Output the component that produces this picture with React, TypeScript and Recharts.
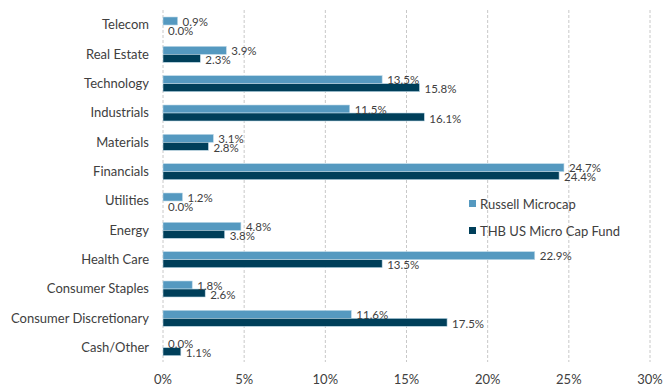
import React from 'react';
import { BarChart, Bar, XAxis, YAxis, CartesianGrid, LabelList } from 'recharts';

const categories = ['Telecom', 'Real Estate', 'Technology', 'Industrials', 'Materials', 'Financials', 'Utilities', 'Energy', 'Health Care', 'Consumer Staples', 'Consumer Discretionary', 'Cash/Other'];
const russell = [0.9, 3.9, 13.5, 11.5, 3.1, 24.7, 1.2, 4.8, 22.9, 1.8, 11.6, 0.0];
const thb = [0.0, 2.3, 15.8, 16.1, 2.8, 24.4, 0.0, 3.8, 13.5, 2.6, 17.5, 1.1];
const xTicks = [0, 5, 10, 15, 20, 25, 30];
const seriesNames = ['Russell Microcap', 'THB US Micro Cap Fund'];

const data = categories.map((c, i) => ({ name: c, russell: russell[i], thb: thb[i] }));

const LIGHT = '#5599C0';
const DARK = '#003F5A';
const TEXT = '#404040';
const FONT = 'Lato, "Open Sans", sans-serif';

const makeLabel = (dy: number) => (props: any) => {
  const { x, y, width, height, value } = props;
  const w = Number(value) === 0 ? 0 : width;
  return (
    <text x={x + w + 5} y={y + height / 2 + dy} fill={TEXT} fontSize={11.5} fontFamily={FONT} dominantBaseline="central">
      {Number(value).toFixed(1)}%
    </text>
  );
};

const makeShape = (key: string) => (props: any) => {
  const { x, y, width, height, fill, stroke, strokeWidth, payload } = props;
  if (!payload || Number(payload[key]) === 0) return <g />;
  return <rect x={x} y={y} width={width} height={height} fill={fill} stroke={stroke} strokeWidth={strokeWidth} />;
};

export default function App() {
  return (
    <div style={{ position: 'absolute', left: 0, top: 0, width: 671, height: 387, background: '#fff' }}>
      <BarChart
        width={671}
        height={387}
        data={data}
        layout="vertical"
        margin={{ top: 10, right: 21, bottom: 0, left: 0 }}
        barGap={0}
        barSize={8}
      >
        <CartesianGrid horizontal={false} strokeDasharray="3 2" stroke="#C8C8C8" />
        <XAxis
          type="number"
          domain={[0, 30]}
          ticks={xTicks}
          tickFormatter={(v: number) => `${v}%`}
          axisLine={false}
          tickLine={false}
          tick={{ fill: TEXT, fontSize: 13, fontFamily: FONT }}
          height={25}
          tickMargin={7}
        />
        <YAxis
          type="category"
          dataKey="name"
          width={163}
          axisLine={false}
          tickLine={false}
          tickSize={0}
          tickMargin={14}
          interval={0}
          tick={{ fill: TEXT, fontSize: 13, fontFamily: FONT }}
        />
        <Bar dataKey="russell" name={seriesNames[0]} fill={LIGHT} stroke="#BFD9E8" strokeWidth={0.6} minPointSize={0.01} shape={makeShape('russell')} isAnimationActive={false}>
          <LabelList dataKey="russell" content={makeLabel(0)} />
        </Bar>
        <Bar dataKey="thb" name={seriesNames[1]} fill={DARK} stroke="#BFD9E8" strokeWidth={0.6} minPointSize={0.01} shape={makeShape('thb')} isAnimationActive={false}>
          <LabelList dataKey="thb" content={makeLabel(1)} />
        </Bar>
      </BarChart>
      <div style={{ position: 'absolute', left: 469, top: 190, fontFamily: FONT, fontSize: 13, color: TEXT }}>
        {seriesNames.map((n, i) => (
          <div key={n} style={{ display: 'flex', alignItems: 'center', height: 27 }}>
            <span style={{ display: 'inline-block', width: 7, height: 7, background: i === 0 ? LIGHT : DARK, marginRight: 4 }} />
            {n}
          </div>
        ))}
      </div>
    </div>
  );
}
